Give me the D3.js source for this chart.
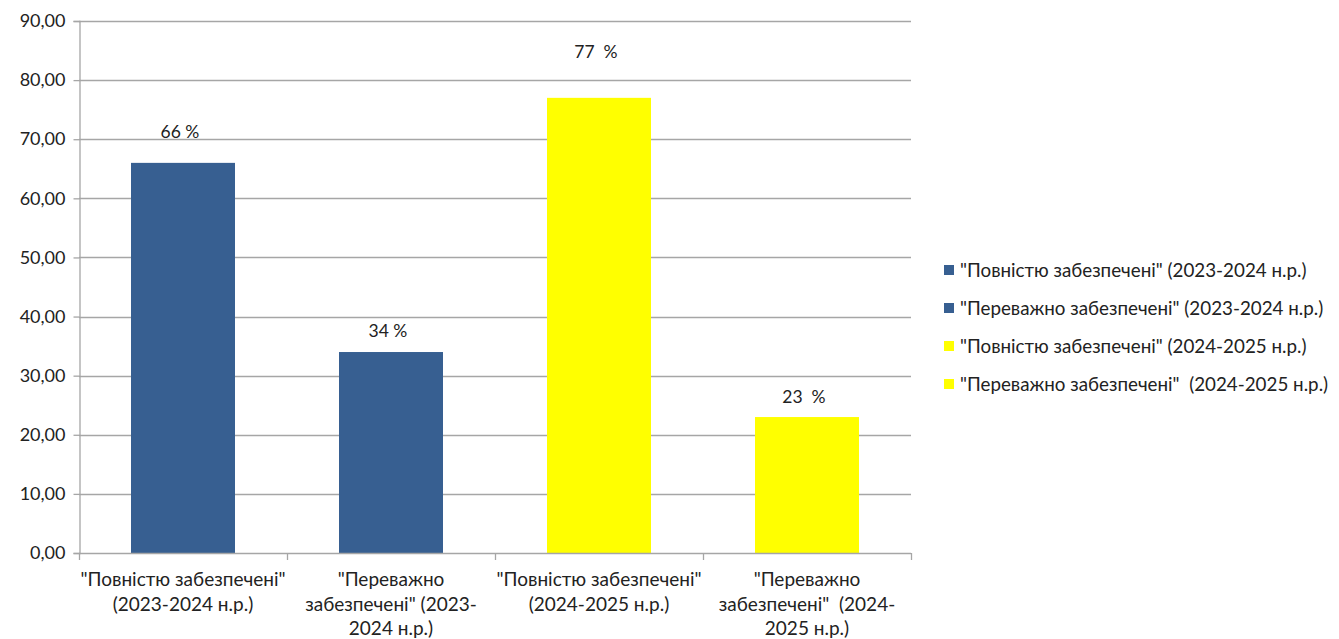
<!DOCTYPE html>
<html><head><meta charset="utf-8">
<script src="https://cdn.jsdelivr.net/npm/d3@7"></script>
<style>
html,body{margin:0;padding:0;background:#fff;}
svg text{font-family:Lato,"Open Sans",sans-serif;fill:#222;}
</style></head>
<body><svg id="c" width="1339" height="639"></svg>
<script>
const categories = [
  ["\"Повністю забезпечені\"", "(2023-2024 н.р.)"],
  ["\"Переважно", "забезпечені\" (2023-", "2024 н.р.)"],
  ["\"Повністю забезпечені\"", "(2024-2025 н.р.)"],
  ["\"Переважно", "забезпечені\"  (2024-", "2025 н.р.)"]
];
const values = [66, 34, 77, 23];
const valueLabels = ["66 %", "34 %", "77  %", "23  %"];
const seriesNames = [
  "\"Повністю забезпечені\" (2023-2024 н.р.)",
  "\"Переважно забезпечені\" (2023-2024 н.р.)",
  "\"Повністю забезпечені\" (2024-2025 н.р.)",
  "\"Переважно забезпечені\"  (2024-2025 н.р.)"
];
const yTicks = [0, 10, 20, 30, 40, 50, 60, 70, 80, 90];

const colors = ["#375f91", "#375f91", "#ffff00", "#ffff00"];
const labelDy = [31, 21, 46, 20];

const svg = d3.select("#c");
const mLeft = 79, mRight = 911, mTop = 21, mBottom = 553;
const x = d3.scaleBand().domain(d3.range(values.length)).range([mLeft, mRight]).paddingInner(0).paddingOuter(0);
const y = d3.scaleLinear().domain([0, 90]).range([mBottom, mTop]);
const grid = "#a6a6a6";

// gridlines
svg.append("g").selectAll("line").data(yTicks.filter(t => t > 0)).join("line")
  .attr("x1", mLeft).attr("x2", mRight)
  .attr("y1", d => Math.round(y(d)) + 0.5).attr("y2", d => Math.round(y(d)) + 0.5)
  .attr("stroke", grid).attr("stroke-width", 1.3);

// bars
const bw = x.bandwidth() * 0.5;
svg.append("g").selectAll("rect").data(values).join("rect")
  .attr("x", (d, i) => x(i) + x.bandwidth() / 2 - bw / 2)
  .attr("width", bw)
  .attr("y", d => y(d))
  .attr("height", d => y(0) - y(d))
  .attr("fill", (d, i) => colors[i]);

// y axis
const yAxis = d3.axisLeft(y).tickValues(yTicks).tickSize(6).tickPadding(8)
  .tickFormat(d => d3.format(".2f")(d).replace(".", ","));
const ya = svg.append("g").attr("transform", `translate(${mLeft + 0.5},0)`).call(yAxis);
ya.select(".domain").attr("stroke", grid).attr("stroke-width", 1.3);
ya.selectAll(".tick line").attr("stroke", grid).attr("stroke-width", 1.3);
ya.selectAll(".tick text").style("font-size", "18px").attr("fill", "#222");

// x axis line and ticks
svg.append("line").attr("x1", mLeft).attr("x2", mRight)
  .attr("y1", mBottom + 0.5).attr("y2", mBottom + 0.5).attr("stroke", grid).attr("stroke-width", 1.3);
const bounds = d3.range(values.length + 1).map(i => i < values.length ? x(i) : mRight);
svg.append("g").selectAll("line").data(bounds).join("line")
  .attr("x1", d => Math.round(d) + 0.5).attr("x2", d => Math.round(d) + 0.5)
  .attr("y1", mBottom).attr("y2", mBottom + 7)
  .attr("stroke", grid).attr("stroke-width", 1.3);

// x labels
const xl = svg.append("g").selectAll("text").data(categories).join("text")
  .attr("text-anchor", "middle").style("font-size", "19px").attr("xml:space", "preserve")
  .attr("x", (d, i) => x(i) + x.bandwidth() / 2);
xl.each(function(lines, i) {
  d3.select(this).selectAll("tspan").data(lines).join("tspan")
    .attr("x", x(i) + x.bandwidth() / 2)
    .attr("y", (l, j) => 586 + j * 24.5)
    .text(l => l);
});

// value labels
svg.append("g").selectAll("text").data(values).join("text")
  .attr("text-anchor", "middle").style("font-size", "17.5px").attr("xml:space", "preserve")
  .attr("x", (d, i) => x(i) + x.bandwidth() / 2 - 3)
  .attr("y", (d, i) => y(d) - labelDy[i] + 6)
  .text((d, i) => valueLabels[i]);

// legend
const lg = svg.append("g").selectAll("g").data(seriesNames).join("g")
  .attr("transform", (d, i) => `translate(944,${270 + i * 38})`);
lg.append("rect").attr("x", 0).attr("y", -5).attr("width", 10).attr("height", 10)
  .attr("fill", (d, i) => colors[i]);
lg.append("text").attr("x", 16).attr("y", 6.5).style("font-size", "18.8px").attr("xml:space", "preserve")
  .text(d => d);
</script></body></html>
